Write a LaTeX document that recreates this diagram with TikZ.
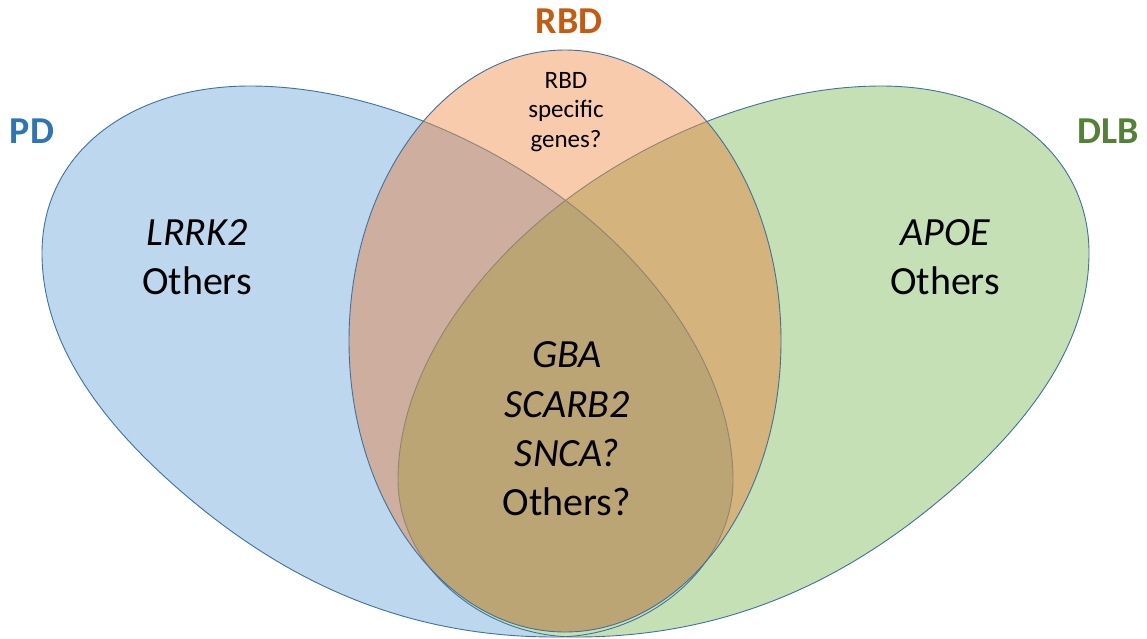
\documentclass[tikz,border=0pt]{standalone}
\usepackage{fontspec}
\setmainfont{Carlito}
\definecolor{pdfill}{HTML}{BDD7EE}
\definecolor{dlbfill}{HTML}{C5E0B4}
\definecolor{rbdfill}{HTML}{F8CBAD}
\definecolor{pdrbd}{HTML}{CEAF9F}
\definecolor{dlbrbd}{HTML}{D5B37D}
\definecolor{allfill}{HTML}{BCA574}
\definecolor{edge}{HTML}{41719C}
\definecolor{inneredge}{HTML}{918472}
\definecolor{pdtitle}{HTML}{2E75B6}
\definecolor{dlbtitle}{HTML}{538135}
\definecolor{rbdtitle}{HTML}{C55A11}
\tikzset{
  big/.style={font=\fontsize{40}{49}\selectfont, inner sep=0pt, anchor=base},
  small/.style={font=\fontsize{25}{30}\selectfont, inner sep=0pt, anchor=base},
  title/.style={font=\fontsize{38}{46}\selectfont\bfseries, inner sep=0pt, anchor=base},
  outline/.style={draw=edge, line width=0.9pt},
  inline/.style={draw=inneredge, line width=0.9pt},
}
\def\pdpath{(250,86) .. controls (360,86) and (477,134) .. (565,200)
  .. controls (653,266) and (733,370) .. (733,480)
  .. controls (733,565) and (650,637) .. (555,637)
  .. controls (400,637) and (282,578) .. (183,493)
  .. controls (111,431) and (42,350) .. (42,253)
  .. controls (42,153) and (130,86) .. (250,86) -- cycle}
\def\dlbpath{(881,86) .. controls (771,86) and (654,134) .. (566,200)
  .. controls (478,266) and (398,370) .. (398,480)
  .. controls (398,565) and (481,637) .. (576,637)
  .. controls (731,637) and (849,578) .. (948,493)
  .. controls (1020,431) and (1089,350) .. (1089,253)
  .. controls (1089,153) and (1001,86) .. (881,86) -- cycle}
\def\rbdpath{(565,341) ellipse [x radius=216pt, y radius=291pt]}
\begin{document}
\begin{tikzpicture}[x=1pt, y=-1pt]
\useasboundingbox (0,0) rectangle (1147,638);
% base fills
\fill[pdfill] \pdpath;
\fill[dlbfill] \dlbpath;
\fill[rbdfill] \rbdpath;
\begin{scope}
  \clip \pdpath;
  \fill[pdrbd] \rbdpath;
\end{scope}
\begin{scope}
  \clip \dlbpath;
  \fill[dlbrbd] \rbdpath;
\end{scope}
\begin{scope}
  \clip \pdpath;
  \clip \dlbpath;
  \fill[allfill] \rbdpath;
\end{scope}
% outlines outside RBD
\begin{scope}[even odd rule]
  \clip (-10,-10) rectangle (1157,648) \rbdpath;
  \draw[outline] \pdpath;
  \draw[outline] \dlbpath;
\end{scope}
% outlines seen through RBD
\begin{scope}
  \clip \rbdpath;
  \draw[inline] \pdpath;
  \draw[inline] \dlbpath;
\end{scope}
\draw[outline] \rbdpath;
% titles
\node[title, text=rbdtitle] (trbd) at (569,33) {RBD};
\node[title, text=pdtitle] (tpd) at (32,143) {PD};
\node[title, text=dlbtitle] (tdlb) at (1108,143) {DLB};
% PD text
\node[big] (lrrk) at (197,245) {\itshape LRRK2};
\node[big] (pdoth) at (197,294) {Others};
% DLB text
\node[big] (apoe) at (945,245) {\itshape APOE};
\node[big] (dlboth) at (945,294) {Others};
% RBD specific
\node[small] (r1) at (566,88) {RBD};
\node[small] (r2) at (566,117) {specific};
\node[small] (r3) at (566,147) {genes?};
% center
\node[big] (c1) at (567,367) {\itshape GBA};
\node[big] (c2) at (567,417) {\itshape SCARB2};
\node[big] (c3) at (567,466) {\itshape SNCA?};
\node[big] (c4) at (567,515) {Others?};
\end{tikzpicture}
\end{document}
